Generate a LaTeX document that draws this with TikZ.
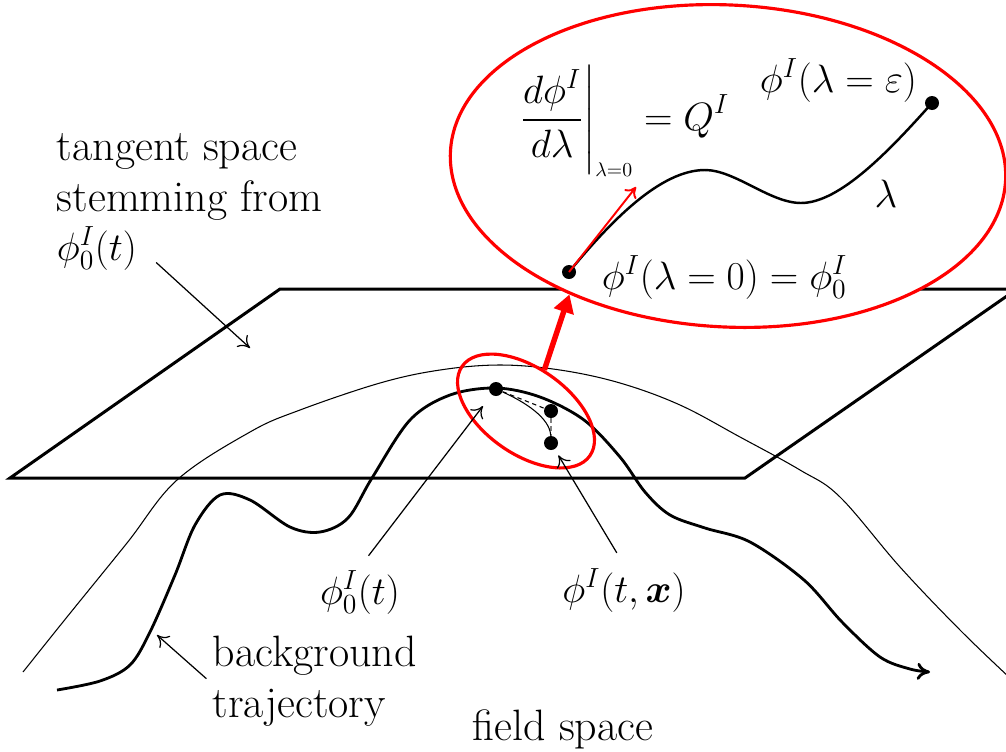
\RequirePackage{fix-cm}
\documentclass[tikz,border=0pt]{standalone}
\usepackage{amsmath}
\usetikzlibrary{arrows.meta,shapes.geometric}

\begin{document}
\begin{tikzpicture}[x=0.02cm,y=-0.02cm,
  font=\fontsize{25}{29}\selectfont,
  plane/.style={line width=1.7pt},
  traj/.style={line width=1.6pt},
  fine/.style={line width=0.6pt},
  ptr/.style={line width=0.7pt,-{To[length=2.2mm,width=3.2mm]}},
  ring/.style={ellipse,draw=red,line width=1.8pt,inner sep=0pt},
  dot/.style={circle,fill,inner sep=0pt,minimum size=0.28cm},
  lbl/.style={inner sep=2pt,align=left},
  mth/.style={inner sep=2pt,font=\fontsize{22.5}{27}\selectfont}]
  \useasboundingbox (0,0) rectangle (1006,751);
  % tangent plane
  \draw[plane] (10,478) -- (280,289) -- (1017,289) -- (745,478) -- cycle;
  % field space curve
  \draw[fine] plot[smooth,tension=0.6] coordinates {(23,672) (67,617) (127,543)
    (177,480) (250,432) (300,410) (380,383) (440,370) (500,365) (560,370)
    (620,383) (680,405) (740,437) (800,470) (840,497) (900,567) (960,630) (1010,678)};
  % background trajectory
  \draw[traj,-{To[length=2.6mm,width=3.4mm]}] plot[smooth,tension=0.55] coordinates {
    (57,690) (100,681) (130,665) (150,632) (175,575) (195,525) (220,495) (250,500)
    (290,527) (320,532) (348,518) (372,478) (410,420) (450,395) (496,388) (540,397)
    (584,420) (620,457) (645,492) (670,515) (705,528) (750,542) (804,580) (842,622)
    (880,657) (910,669) (930,672)};
  % zoomed region
  \node[ring,rotate=-35,minimum width=3.12cm,minimum height=1.72cm] (zoom) at (526,411) {};
  \node[dot] (p0) at (496,389) {};
  \node[dot] (p1) at (551,411) {};
  \node[dot] (p2) at (551,443) {};
  \draw[fine,dash pattern=on 2.5pt off 2pt] (p0) -- (p1);
  \draw[fine,dash pattern=on 2.5pt off 2pt,gray] (p1) -- (p2);
  \draw[fine] (p0) .. controls (525,402) and (550,418) .. (p2);
  % labels below
  \node[lbl,anchor=south west] (ts) at (53,224) {tangent space\\stemming from};
  \node[mth,anchor=base west] (ts0) at (53,260) {$\phi_0^I(t)$};
  \coordinate (tp) at (250,348);
  \draw[ptr,shorten <=12pt] (ts0.east) -- (tp);
  \node[mth,anchor=base] (l0) at (360,604) {$\phi_0^I(t)$};
  \draw[ptr,shorten <=8pt,shorten >=8pt] (l0.north) -- (p0);
  \node[mth,anchor=base] (lx) at (624,602) {$\phi^I(t,\boldsymbol{x})$};
  \draw[ptr,shorten <=8pt,shorten >=4pt] (lx.north) -- (p2);
  \node[lbl,anchor=south west] (bg) at (209,730) {background\\trajectory};
  \coordinate (tb) at (157,635);
  \draw[ptr,shorten <=2pt] (bg.west) -- (tb);
  \node[lbl,anchor=base] (fs) at (563,740) {field space};
  % magnified view
  \node[ring,fill=white,rotate=-3,minimum width=11.12cm,minimum height=6.44cm] (mag) at (728,166) {};
  \draw[red,line width=3.1pt,-{Triangle[length=3.6mm,width=4mm]}] (zoom.101) -- (mag.222);
  \node[dot] (s0) at (569,272) {};
  \node[dot] (s1) at (932,103) {};
  \draw[line width=1.4pt] (s0.center) .. controls (610,222) and (660,170) .. (705,170)
    .. controls (735,170) and (770,203) .. (801,203)
    .. controls (840,203) and (890,150) .. (s1.center);
  \coordinate (qv) at (636,187);
  \draw[red,line width=1.1pt,-{To[length=2mm,width=3mm]}] (s0.center) -- (qv);
  \node[mth,anchor=base west] (lq) at (515,130)
    {$\displaystyle\left.\frac{d\phi^I}{d\lambda}\right|_{\scriptscriptstyle\lambda=0}=Q^I$};
  \node[mth,anchor=base west] (le) at (756,92) {$\phi^I(\lambda=\varepsilon)$};
  \node[mth,anchor=base] (lam) at (886,207) {$\lambda$};
  \node[mth,anchor=base west] (lz) at (598,289) {$\phi^I(\lambda=0)=\phi_0^I$};
\end{tikzpicture}
\end{document}
